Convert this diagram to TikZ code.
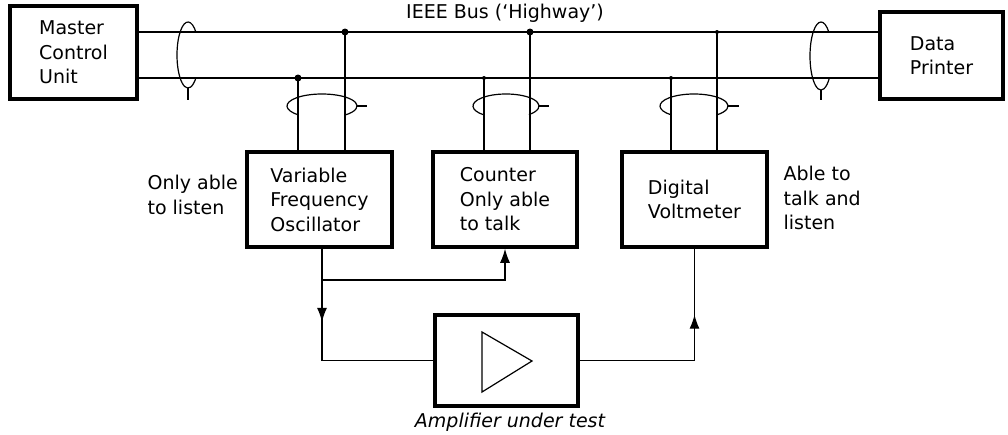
\documentclass[tikz,border=0pt]{standalone}
\usepackage{fontspec}
\setmainfont{DejaVu Sans}
\usetikzlibrary{arrows.meta,decorations.markings}

\begin{document}
\begin{tikzpicture}[x=1pt, y=-1pt,
  font=\fontsize{19}{24.5}\selectfont, line width=1.2pt,
  every node/.style={inner sep=0pt},
  unit/.style={draw, line width=3.5pt, align=left},
  flow/.style={postaction={decorate},
    decoration={markings, mark=at position #1 with {\arrow{Latex[length=14pt,width=10pt]}}}}]
  \useasboundingbox (0,0) rectangle (1008,434);

  % instruments
  \node[unit, minimum width=127pt, minimum height=93pt] (mcu) at (73.5,52.5) {Master\\Control\\Unit};
  \node[unit, minimum width=123pt, minimum height=87pt] (prn) at (941.5,55.5) {Data\\Printer};
  \node[unit, minimum width=145pt, minimum height=95pt] (vfo) at (319.5,199.5) {Variable\\Frequency\\Oscillator};
  \node[unit, minimum width=144pt, minimum height=95pt] (ctr) at (505,199.5) {Counter\\Only able\\to talk};
  \node[unit, minimum width=145pt, minimum height=95pt] (dvm) at (694.5,199.5) {Digital\\Voltmeter};
  \node[unit, minimum width=143pt, minimum height=91pt] (amp) at (506.5,360.5) {};
  \draw (482,332) -- (482,392) -- (532,361) -- cycle;

  \node (bus) at (505,13) {IEEE Bus (`Highway')};
  \node[align=left, anchor=west] (listen) at (147,195) {Only able\\to listen};
  \node[align=left, anchor=west] (both) at (783,198) {Able to\\talk and\\listen};
  \node (dut) at (510,422) {\itshape Amplifier under test};

  % the bus
  \draw (mcu.east |- 0,32) -- (prn.west |- 0,32);
  \draw (mcu.east |- 0,78) -- (prn.west |- 0,78);
  \draw (188,55) ++(-43:11 and 33) arc[start angle=-43, end angle=-317, x radius=11, y radius=33];
  \draw (188,88) -- (188,100);
  \draw (821,56) ++(-45:11 and 34) arc[start angle=-45, end angle=-320, x radius=11, y radius=34];
  \draw (821,90) -- (821,100);

  % taps
  \coordinate (vfoL) at (298,78);
  \coordinate (vfoH) at (345,32);
  \coordinate (ctrL) at (484,78);
  \coordinate (ctrH) at (530,32);
  \coordinate (dvmL) at (671,78);
  \coordinate (dvmH) at (717,32);
  \foreach \t/\u in {vfoL/vfo, vfoH/vfo, ctrL/ctr, ctrH/ctr, dvmL/dvm, dvmH/dvm}
    \draw (\t) -- (\t |- \u.north);
  \fill (vfoL) circle[radius=3.5] (vfoH) circle[radius=3.5] (ctrH) circle[radius=3.5];
  \fill (ctrL) circle[radius=2] (dvmL) circle[radius=2] (dvmH) circle[radius=2];

  \draw (322,106) ++(133:35 and 12) arc[start angle=133, end angle=409, x radius=35, y radius=12];
  \draw (357,106) -- (367,106);
  \draw (506,106) ++(132:33 and 12) arc[start angle=132, end angle=406, x radius=33, y radius=12];
  \draw (539,106) -- (549,106);
  \draw (694,106) ++(133:34 and 12) arc[start angle=133, end angle=407, x radius=34, y radius=12];
  \draw (728,106) -- (739,106);

  % test signal
  \coordinate (split) at (322,280);
  \draw (split |- vfo.south) -- (split);
  \draw[-{Latex[length=14pt,width=10pt]}] (split) -| (ctr.south);
  \draw[flow=0.52] (split) -- (split |- amp.west);
  \draw (split |- amp.west) -- (amp.west);
  \draw (amp.east) -- (dvm.south |- amp.east);
  \draw[flow=0.41] (dvm.south |- amp.east) -- (dvm.south);
\end{tikzpicture}
\end{document}
